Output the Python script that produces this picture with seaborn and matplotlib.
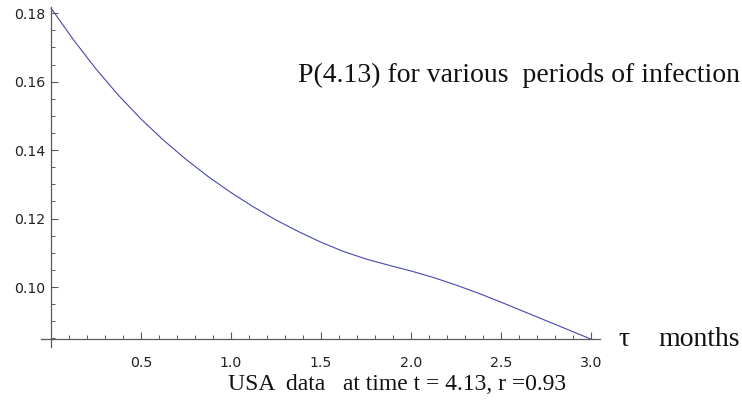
import matplotlib
matplotlib.use("Agg")
import matplotlib.pyplot as plt
import seaborn as sns
import pandas as pd
from matplotlib.ticker import MultipleLocator

# ---- data ----
tau = [0.0, 0.125, 0.25, 0.375, 0.5, 0.625, 0.75, 0.875, 1.0, 1.125, 1.25, 1.375,
       1.5, 1.625, 1.75, 1.875, 2.0, 2.125, 2.25, 2.375, 2.5, 2.625, 2.75, 2.875, 3.0]
prob = [0.1815, 0.1722, 0.1637, 0.1560, 0.1491, 0.1429, 0.1373, 0.1322, 0.1276,
        0.1234, 0.1196, 0.1162, 0.1131, 0.1104, 0.1082, 0.1064, 0.1047, 0.1028,
        0.1006, 0.0982, 0.0956, 0.0929, 0.0902, 0.0875, 0.0848]
xticks = [0.5, 1.0, 1.5, 2.0, 2.5, 3.0]
xticklabels = ["0.5", "1.0", "1.5", "2.0", "2.5", "3.0"]
yticks = [0.10, 0.12, 0.14, 0.16, 0.18]
yticklabels = ["0.10", "0.12", "0.14", "0.16", "0.18"]
title_text = "P(4.13) for various  periods of infection"
tau_text = "\u03c4"
unit_text = "months"
footer_text = "USA  data   at time t = 4.13, r =0.93"

df = pd.DataFrame({"tau": tau, "P": prob})

sns.set_style("white")
plt.rcParams["font.family"] = ["DejaVu Sans"]

fig = plt.figure(figsize=(7.42, 4.04), dpi=100)
ax = fig.add_axes([41 / 742, 1 - 347 / 404, (600 - 41) / 742, (347 - 7) / 404])

sns.lineplot(data=df, x="tau", y="P", ax=ax, color="#4848b0", linewidth=0.8)

ax.set_xlim(-10 / 180, 3.05)
ax.set_ylim(0.0825, 0.1818)

axis_col = "#5a5a5a"
for s in ["top", "right"]:
    ax.spines[s].set_visible(False)
ax.spines["left"].set_position(("data", 0))
ax.spines["bottom"].set_position(("data", 0.0848))
for s in ["left", "bottom"]:
    ax.spines[s].set_color(axis_col)
    ax.spines[s].set_linewidth(0.9)

ax.set_xticks(xticks)
ax.set_xticklabels(xticklabels)
ax.xaxis.set_minor_locator(MultipleLocator(0.1))
ax.set_yticks(yticks)
ax.set_yticklabels(yticklabels)
ax.yaxis.set_minor_locator(MultipleLocator(0.005))

ax.tick_params(axis="both", which="both", direction="in", colors=axis_col,
               labelcolor="#222222", labelsize=10.2,
               bottom=True, left=True, top=False, right=False)
ax.tick_params(axis="both", which="major", length=5, width=0.8)
ax.tick_params(axis="both", which="minor", length=3, width=0.7)
ax.tick_params(axis="x", which="major", pad=12)
ax.tick_params(axis="y", which="major", pad=4)

ax.set_xlabel("")
ax.set_ylabel("")

serif = ["Liberation Serif", "DejaVu Serif"]
fig.text(298 / 742, 1 - 75 / 404, title_text, family=serif, fontsize=20,
         ha="left", va="center", color="#111111")
fig.text(618 / 742, 1 - 340 / 404, tau_text, family=serif, fontsize=20,
         ha="left", va="center", color="#111111")
fig.text(740 / 742, 1 - 340 / 404, unit_text, family=serif, fontsize=20,
         ha="right", va="center", color="#111111")
fig.text(397 / 742, 1 - 385 / 404, footer_text, family=serif, fontsize=17,
         ha="center", va="center", color="#111111")

fig.savefig("out.png", dpi=100, facecolor="white")
